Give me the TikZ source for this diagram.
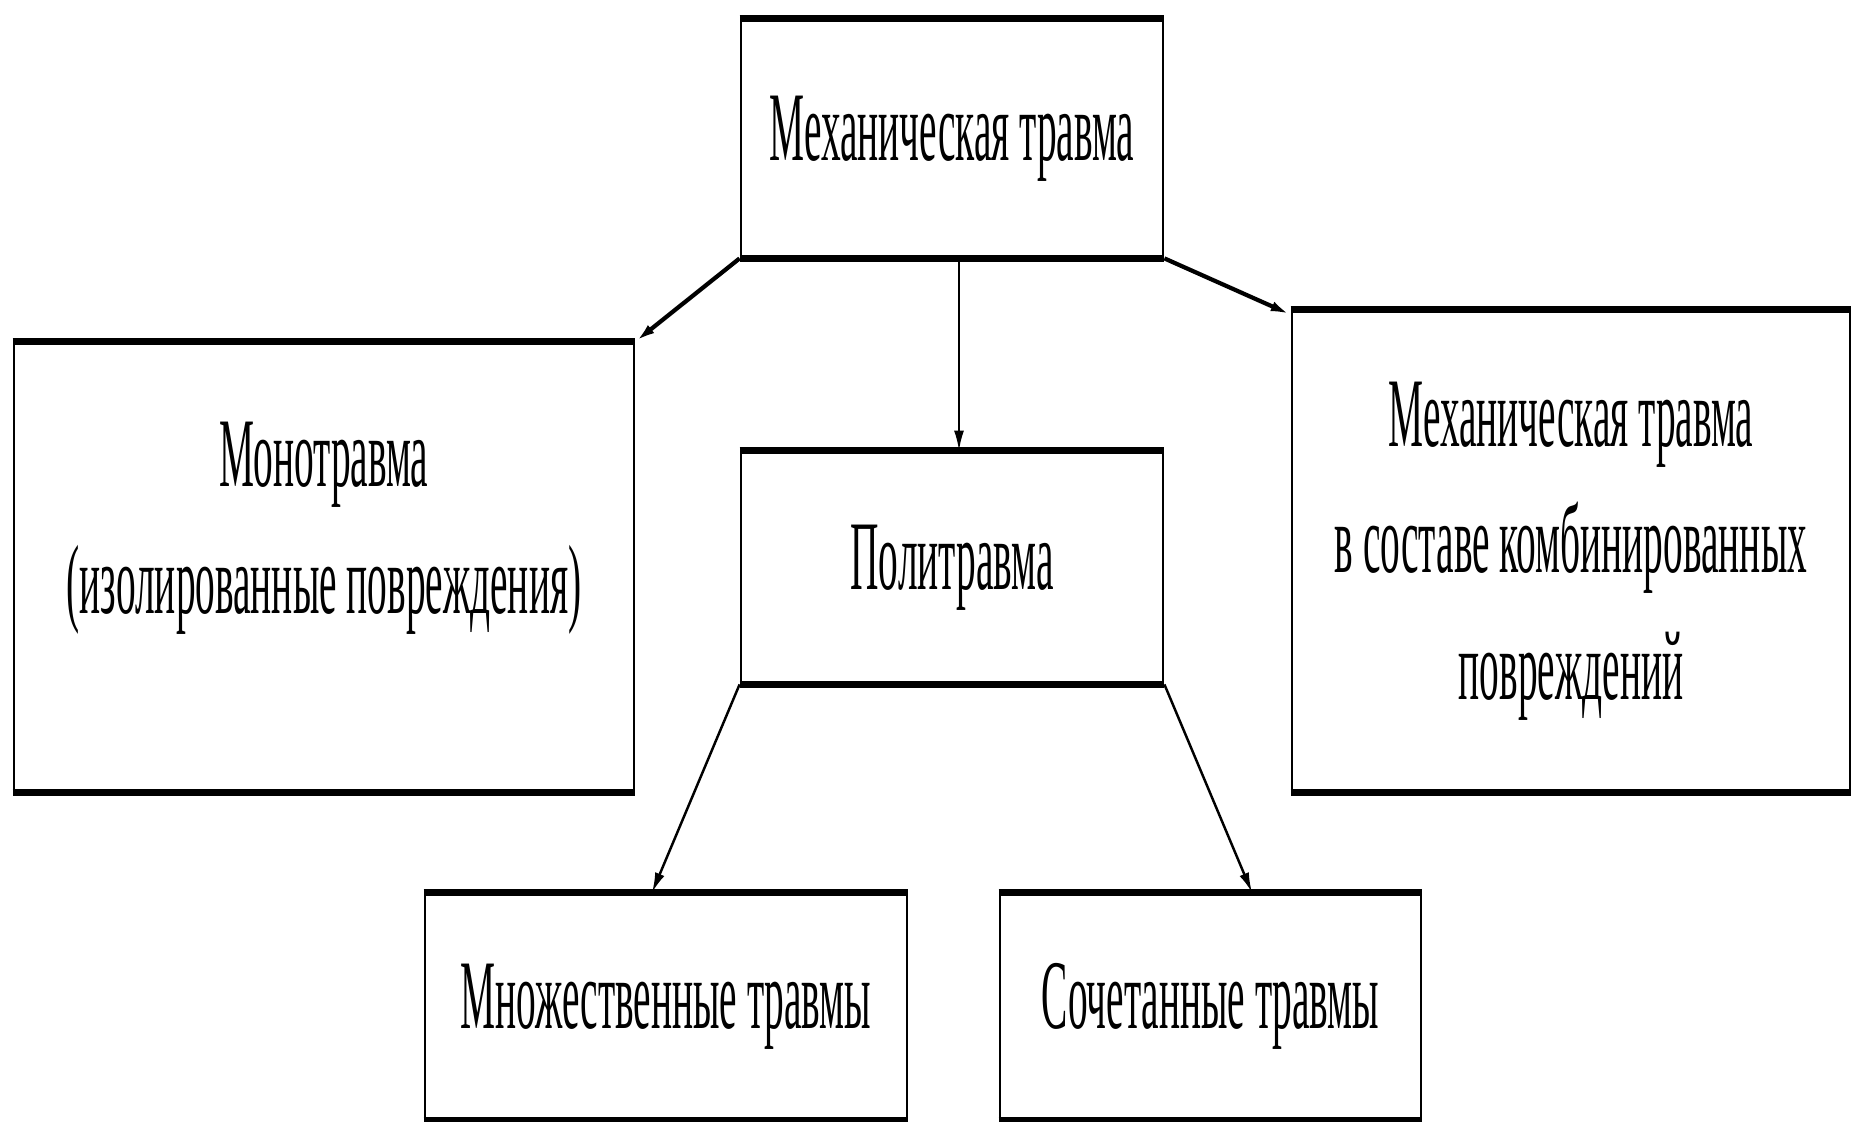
\documentclass[tikz,border=0pt]{standalone}
\usepackage{fontspec}
\setmainfont{Liberation Serif}[FakeStretch=0.4]
\usetikzlibrary{arrows.meta}
\usetikzlibrary{positioning}
\tikzset{>={Latex[length=4mm,width=2mm]}}

\begin{document}
\begin{tikzpicture}[box/.style={draw, line width=1.6pt, align=center, inner sep=0pt, font=\fontsize{56}{72}\selectfont}] % mechanical trauma scheme
	\useasboundingbox (0,0) rectangle (37.04,-22.44);
	\node[box, minimum width=8.44cm, minimum height=4.74cm] (mech) at (19.04,-2.77) {Механическая травма};
	\node[box, minimum width=12.4cm, minimum height=8.96cm, text depth=56pt] (mono) at (6.48,-11.34) {Монотравма\\(изолированные повреждения)};
	\node[box, minimum width=8.44cm, minimum height=4.62cm] (poly) at (19.04,-11.35) {Политравма};
	\node[box, minimum width=11.16cm, minimum height=9.6cm] (comb) at (31.42,-11.02) {Механическая травма\\в составе комбинированных\\повреждений};
	\node[box, minimum width=9.64cm, minimum height=4.5cm] (mult) at (13.32,-20.13) {Множественные травмы};
	\node[box, minimum width=8.42cm, minimum height=4.5cm] (assoc) at (24.21,-20.13) {Сочетанные травмы};
	\foreach \n in {mech,mono,poly,comb,mult,assoc}
		\draw[line width=4.2pt] (\n.north west) -- (\n.north east) (\n.south west) -- (\n.south east);
	\draw[->, line width=2.4pt] (mech.south west) -- (mono.north east);
	\draw[->, line width=1.2pt] ([xshift=0.14cm]mech.south) -- ([xshift=0.14cm]poly.north);
	\draw[->, line width=2.4pt] (mech.south east) -- ([yshift=-0.1cm]comb.north west);
	\draw[->, line width=1.4pt] (poly.south west) -- ([xshift=-0.28cm]mult.north);
	\draw[->, line width=1.4pt] (poly.south east) -- ([xshift=0.83cm]assoc.north);
\end{tikzpicture}
\end{document}
